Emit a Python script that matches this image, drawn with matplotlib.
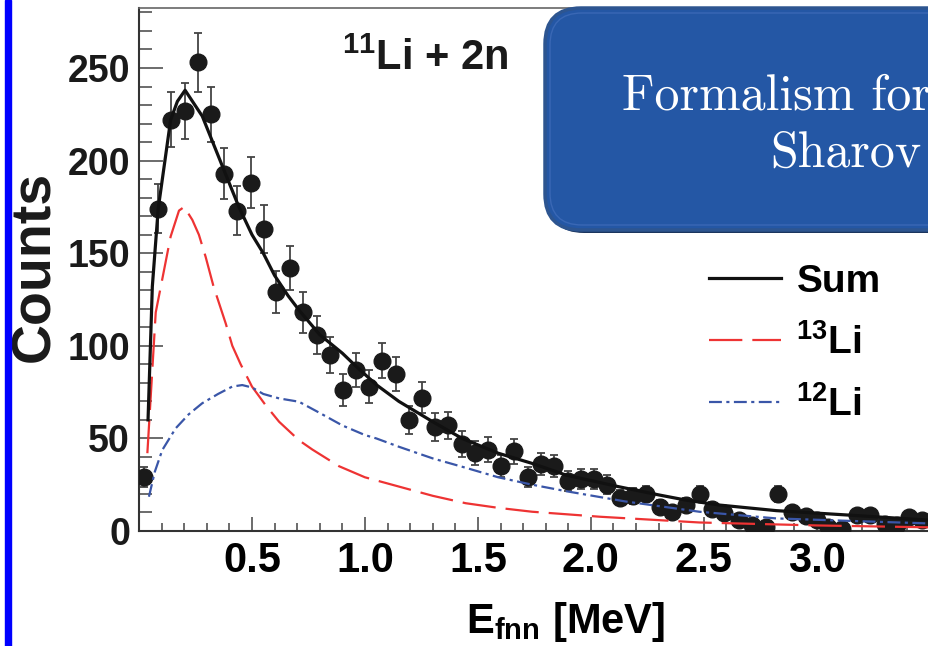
import numpy as np
import matplotlib
matplotlib.use("Agg")
import matplotlib.pyplot as plt
from matplotlib.patches import FancyBboxPatch, Rectangle
from matplotlib.transforms import IdentityTransform
from matplotlib.ticker import MultipleLocator
from matplotlib.lines import Line2D

plt.rcParams['font.family'] = ['Liberation Sans', 'DejaVu Sans']
plt.rcParams['font.weight'] = 'bold'
plt.rcParams['mathtext.fontset'] = 'custom'
plt.rcParams['mathtext.rm'] = 'Liberation Sans:bold'
plt.rcParams['mathtext.bf'] = 'Liberation Sans:bold'
plt.rcParams['mathtext.it'] = 'Liberation Sans:bold'

# measured spectrum (E_fnn in MeV, counts, error)
e_pts = [0.022, 0.085, 0.140, 0.204, 0.262, 0.319, 0.378, 0.434, 0.496, 0.552,
         0.608, 0.668, 0.726, 0.788, 0.844, 0.903, 0.962, 1.018, 1.077, 1.136,
         1.195, 1.254, 1.310, 1.369, 1.431, 1.487, 1.546, 1.602, 1.661, 1.720,
         1.779, 1.838, 1.897, 1.956, 2.012, 2.073, 2.130, 2.186, 2.245, 2.304,
         2.360, 2.420, 2.481, 2.537, 2.588, 2.655, 2.714, 2.776, 2.829, 2.890,
         2.950, 3.000, 3.050, 3.110, 3.178, 3.237, 3.300, 3.355, 3.410, 3.466]
counts = [29, 174, 222, 227, 253, 225, 193, 173, 188, 163,
          129, 142, 118, 106, 95, 76, 87, 78, 92, 85,
          60, 72, 56, 57, 47, 42, 44, 35, 43, 29,
          36, 35, 27, 28, 28, 25, 18, 19, 20, 13,
          10, 14, 20, 12, 9.5, 6, 3, 2, 20, 10,
          8, 6, 2, 1, 8.6, 8.6, 4, 3, 7.7, 6]
errs = [5.4, 13.2, 14.9, 15.1, 15.9, 15.0, 13.9, 13.2, 13.7, 12.8,
        11.4, 11.9, 10.9, 10.3, 9.7, 8.7, 9.3, 8.8, 9.6, 9.2,
        7.7, 8.5, 7.5, 7.5, 6.9, 6.5, 6.6, 5.9, 6.6, 5.4,
        6.0, 5.9, 5.2, 5.3, 5.3, 5.0, 4.2, 4.4, 4.5, 3.6,
        3.2, 3.7, 4.5, 3.5, 3.1, 2.4, 1.7, 1.4, 4.5, 3.2,
        2.8, 2.4, 1.4, 1.0, 2.9, 2.9, 2.0, 1.7, 2.8, 2.4]

# fit curves
sum_e = [0.04, 0.059, 0.085, 0.14, 0.17, 0.204, 0.28, 0.369, 0.442, 0.5, 0.55,
         0.6, 0.66, 0.71, 0.8, 0.9, 0.96, 1.05, 1.15, 1.3, 1.43, 1.59, 1.74,
         1.89, 2.12, 2.3, 2.42, 2.57, 2.82, 3.14, 3.49, 3.7]
sum_c = [60, 132, 174, 222, 232, 238, 224, 197, 175, 160, 150,
         138, 127, 119, 106, 96, 89, 79, 70, 59, 50, 42, 36.5,
         30.2, 24, 19.5, 16.7, 14, 11, 8.6, 5.9, 5.0]
li13_e = [0.037, 0.074, 0.103, 0.14, 0.177, 0.2, 0.236, 0.265, 0.295, 0.33,
          0.384, 0.413, 0.45, 0.5, 0.56, 0.62, 0.708, 0.767, 0.885, 1.0, 1.15,
          1.3, 1.446, 1.59, 1.74, 2.04, 2.48, 3.0, 3.49, 3.7]
li13_c = [42, 118, 136, 159, 173, 175, 168, 160, 148, 132,
          112, 100, 90, 78, 68, 59, 49, 44, 35, 29, 24,
          19, 15, 12.5, 10.4, 7.7, 4.6, 3.0, 2.0, 1.7]
li12_e = [0.044, 0.07, 0.103, 0.162, 0.22, 0.28, 0.35, 0.413, 0.457, 0.5, 0.55,
          0.62, 0.708, 0.796, 0.9, 1.0, 1.05, 1.15, 1.3, 1.45, 1.59, 1.74, 1.89,
          2.15, 2.48, 2.82, 3.11, 3.49, 3.7]
li12_c = [18.5, 32, 43.7, 55.4, 63, 69, 74, 78, 78.8, 77.5, 74,
          71.6, 69.8, 64, 57, 51.8, 50, 45.5, 39.2, 34, 29, 25, 21.5,
          16, 10.4, 6.8, 5.6, 4.1, 3.8]

W, H = 929, 646
fig = plt.figure(figsize=(W / 100, H / 100), dpi=100)
ax = fig.add_axes([139 / W, 1 - 531 / H, 836 / W, 523 / H])

ax.errorbar(e_pts, counts, yerr=errs, fmt='o', color='#1a1a1a', ms=12,
            ecolor='#444444', elinewidth=1.3, capsize=3, capthick=1.3, zorder=3)
ax.plot(sum_e, sum_c, color='#111111', lw=2.3, zorder=5)
ax.plot(li13_e, li13_c, color='#ee3333', lw=1.6, dashes=(15, 4.5), zorder=4)
ax.plot(li12_e, li12_c, color='#3a56a8', lw=1.6, dashes=(5.8, 2.0, 1.4, 2.0), zorder=4)

ax.set_xlim(0, 3.7)
ax.set_ylim(0, 282.4)
ax.set_xticks([0.5, 1.0, 1.5, 2.0, 2.5, 3.0])
ax.set_xticklabels(['0.5', '1.0', '1.5', '2.0', '2.5', '3.0'])
ax.xaxis.set_minor_locator(MultipleLocator(0.1))
ax.set_yticks([0, 50, 100, 150, 200, 250])
ax.yaxis.set_minor_locator(MultipleLocator(10))
ax.tick_params(axis='y', which='major', direction='in', length=17, width=1.1,
               color='#444444', pad=6.5, labelsize=27, labelcolor='#1a1a1a')
ax.tick_params(axis='y', which='minor', direction='in', length=9, width=1.1, color='#444444')
ax.tick_params(axis='x', which='major', direction='in', length=10, width=1.1,
               color='#444444', pad=7, labelsize=30, labelcolor='#000000')
ax.tick_params(axis='x', which='minor', direction='in', length=5.8, width=1.1, color='#444444')
for s in ['left', 'bottom']:
    ax.spines[s].set_color('#333333')
    ax.spines[s].set_linewidth(1.5)
ax.spines['top'].set_color('#666666')
ax.spines['top'].set_linewidth(1.2)
ax.spines['right'].set_visible(False)

handles = [Line2D([], [], color='#111111', lw=2.3),
           Line2D([], [], color='#ee3333', lw=1.6, dashes=(15, 4.5)),
           Line2D([], [], color='#3a56a8', lw=1.6, dashes=(5.8, 2.0, 1.4, 2.0))]
labels = ['Sum', r'$^{13}$Li', r'$^{12}$Li']
ax.legend(handles, labels, loc='upper left', bbox_to_anchor=(709 / W, 1 - 264 / H),
          bbox_transform=fig.transFigure, frameon=False, fontsize=28,
          handlelength=1.85, handletextpad=0.4, labelspacing=0.62,
          borderpad=0, borderaxespad=0)

fig.text(342 / W, 1 - 70 / H, r'$^{11}$Li + 2n', fontsize=30, va='baseline', ha='left',
         color='#1a1a1a')
fig.text(35 / W, 1 - 266 / H, 'Counts', rotation=90, ha='center', va='center',
         fontsize=40, color='#1a1a1a')
fig.text(566 / W, 1 - 633 / H, r'E$_{\mathbf{fnn}}$ [MeV]', ha='center', va='baseline',
         fontsize=30, color='#000000')

# slide decorations
fig.add_artist(Rectangle((5, 0), 6, H, transform=IdentityTransform(),
                         color='#0000ff', zorder=5))
fig.add_artist(FancyBboxPatch((548, H - 233), 460, 222,
                              boxstyle='round,pad=0,rounding_size=36',
                              transform=IdentityTransform(), facecolor='#1b355e',
                              edgecolor='none', zorder=5))
fig.add_artist(FancyBboxPatch((545, H - 230), 460, 222,
                              boxstyle='round,pad=0,rounding_size=36',
                              transform=IdentityTransform(), facecolor='#2457a5',
                              edgecolor='#2d5590', lw=2.5, zorder=6))
fig.add_artist(FancyBboxPatch((550, H - 225), 450, 212,
                              boxstyle='round,pad=0,rounding_size=32',
                              transform=IdentityTransform(), facecolor='none',
                              edgecolor='#3a68b5', lw=1.0, zorder=6))
fig.text(622 / W, 1 - 110 / H, 'Formalism for', fontfamily='cmr10', fontweight='normal',
         fontsize=36, color='white', ha='left', va='baseline', zorder=7)
fig.text(770 / W, 1 - 167 / H, 'Sharov', fontfamily='cmr10', fontweight='normal',
         fontsize=36, color='white', ha='left', va='baseline', zorder=7)

fig.savefig('out.png', dpi=100)
